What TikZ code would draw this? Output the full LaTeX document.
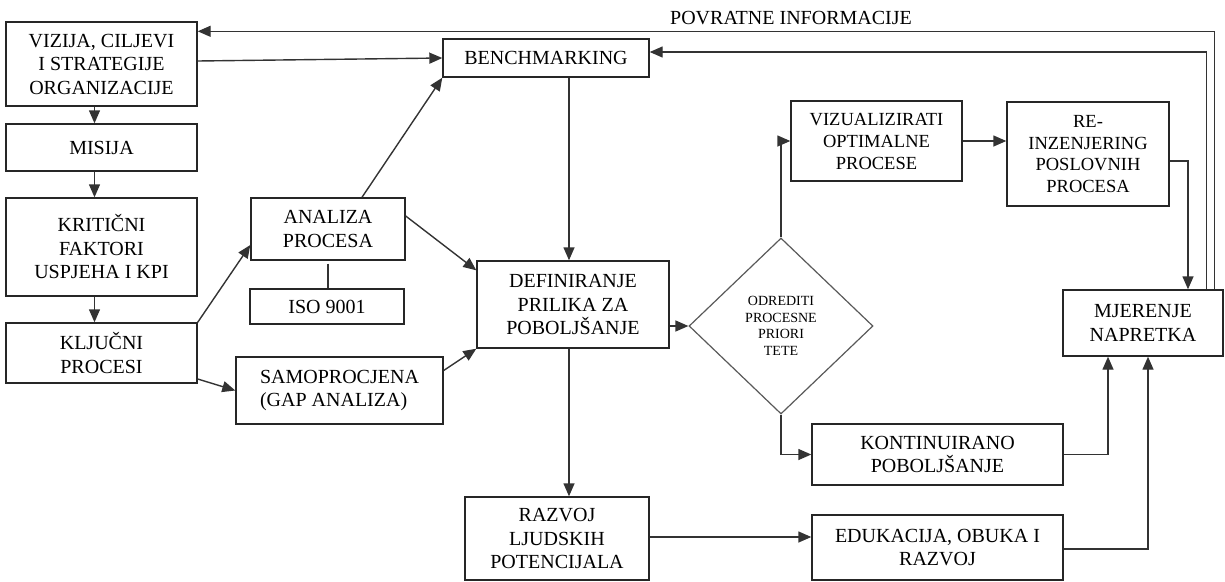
\documentclass[tikz,border=0pt]{standalone}
\usepackage{fontspec}
\setmainfont{Liberation Serif}
\usetikzlibrary{arrows.meta,shapes.geometric,calc}
\tikzset{
  box/.style={draw=black!85, line width=1.4pt, rectangle, inner sep=0pt, align=center,
    font=\fontsize{20}{23.5}\selectfont},
  conn/.style={draw=black!80, line width=1.4pt},
  arr/.style={conn, -{Triangle[length=13pt,width=11pt]}},
  dia/.style={draw=black!65, line width=1.2pt, diamond, inner sep=0pt, align=center,
    font=\fontsize{14}{16.5}\selectfont},
  lbl/.style={font=\fontsize{20}{23.5}\selectfont, inner sep=0pt}
}
\begin{document}
\begin{tikzpicture}[x=1pt,y=-1pt]
\useasboundingbox (0,0) rectangle (1225,581);
% boxes
\node[box, minimum width=191pt, minimum height=84pt] (viz) at (101.5,64) {VIZIJA, CILJEVI\\I STRATEGIJE\\ORGANIZACIJE};
\node[box, minimum width=191pt, minimum height=47pt] (mis) at (101.5,147.5) {MISIJA};
\node[box, minimum width=191pt, minimum height=98pt] (krit) at (101.5,247) {KRITIČNI\\FAKTORI\\USPJEHA I KPI};
\node[box, minimum width=191pt, minimum height=60pt] (klj) at (101.5,353) {KLJUČNI\\PROCESI};
\node[box, minimum width=206pt, minimum height=38pt] (bench) at (546,58) {BENCHMARKING};
\node[box, minimum width=154pt, minimum height=62pt] (anal) at (328,229) {ANALIZA\\PROCESA};
\node[box, minimum width=154pt, minimum height=35pt] (iso) at (327,306.5) {ISO 9001};
\node[box, minimum width=207pt, minimum height=67pt, align=left] (samo) at (339.5,390.5) {SAMOPROCJENA\\(GAP ANALIZA)};
\node[box, minimum width=192pt, minimum height=87pt] (def) at (573,304.5) {DEFINIRANJE\\PRILIKA ZA\\POBOLJŠANJE};
\node[dia, minimum width=184pt, minimum height=176pt] (odr) at (781,326) {ODREDITI\\PROCESNE\\PRIORI\\TETE};
\node[box, minimum width=171pt, minimum height=80pt, font=\fontsize{18.5}{22}\selectfont] (vis) at (876.5,141) {VIZUALIZIRATI\\OPTIMALNE\\PROCESE};
\node[box, minimum width=162pt, minimum height=104pt, font=\fontsize{18.5}{21.5}\selectfont] (rein) at (1088,154) {RE-\\INZENJERING\\POSLOVNIH\\PROCESA};
\node[box, minimum width=160pt, minimum height=66pt] (mjer) at (1143,323) {MJERENJE\\NAPRETKA};
\node[box, minimum width=251pt, minimum height=61pt] (kont) at (937.5,454.5) {KONTINUIRANO\\POBOLJŠANJE};
\node[box, minimum width=251pt, minimum height=65pt] (edu) at (937.5,547.5) {EDUKACIJA, OBUKA I\\RAZVOJ};
\node[box, minimum width=184pt, minimum height=83pt] (razv) at (557,538.5) {RAZVOJ\\LJUDSKIH\\POTENCIJALA};
\node[lbl] (povr) at (791,18) {POVRATNE INFORMACIJE};
% connectors
\draw[arr] ([xshift=-7pt]viz.south) -- ([xshift=-7pt]mis.north);
\draw[arr] ([xshift=-7pt]mis.south) -- ([xshift=-7pt]krit.north);
\draw[arr] ([xshift=-7pt]krit.south) -- ([xshift=-7pt]klj.north);
\draw[arr] ([yshift=3pt]viz.east) -- (bench.west);
\draw[arr] ([xshift=-9pt]mjer.north east) |- ([yshift=-10pt]viz.north east);
\draw[arr] ([xshift=-17pt]mjer.north east) |- ([yshift=6pt]bench.east);
\draw[arr] ([yshift=-7pt]rein.east) -| ([xshift=45pt]mjer.north);
\draw[arr] (vis.east) -- (vis.east -| rein.west);
\draw[arr] ([xshift=-4pt]def.north |- bench.south) -- ([xshift=-4pt]def.north);
\draw[arr] ([xshift=34pt]anal.north) -- (bench.south west);
\draw[arr] ([yshift=13pt]anal.east) -- ([yshift=-10pt]def.north west);
\draw[conn] ([yshift=-3pt]anal.south) -- (anal.south |- iso.north);
\draw[arr] (klj.north east) -- ([yshift=-16pt]anal.west);
\draw[arr] ([yshift=-26pt]klj.east) -- (samo.west);
\draw[arr] ([yshift=20pt]samo.east) -- (def.south west);
\draw[arr] (def.east |- odr.west) -- (odr.west);
\draw[arr] (odr.north) |- (vis.west);
\draw[arr] (odr.south) |- (kont.west);
\draw[arr] ([xshift=-4pt]def.south) -- ([xshift=-4pt]def.south |- razv.north);
\draw[arr] ([yshift=1.5pt]razv.east) -- ([yshift=1.5pt]razv.east -| edu.west);
\draw[arr] (kont.east) -| ([xshift=-35pt]mjer.south);
\draw[arr] ([yshift=-1.5pt]edu.east) -| ([xshift=5pt]mjer.south);
\end{tikzpicture}
\end{document}
